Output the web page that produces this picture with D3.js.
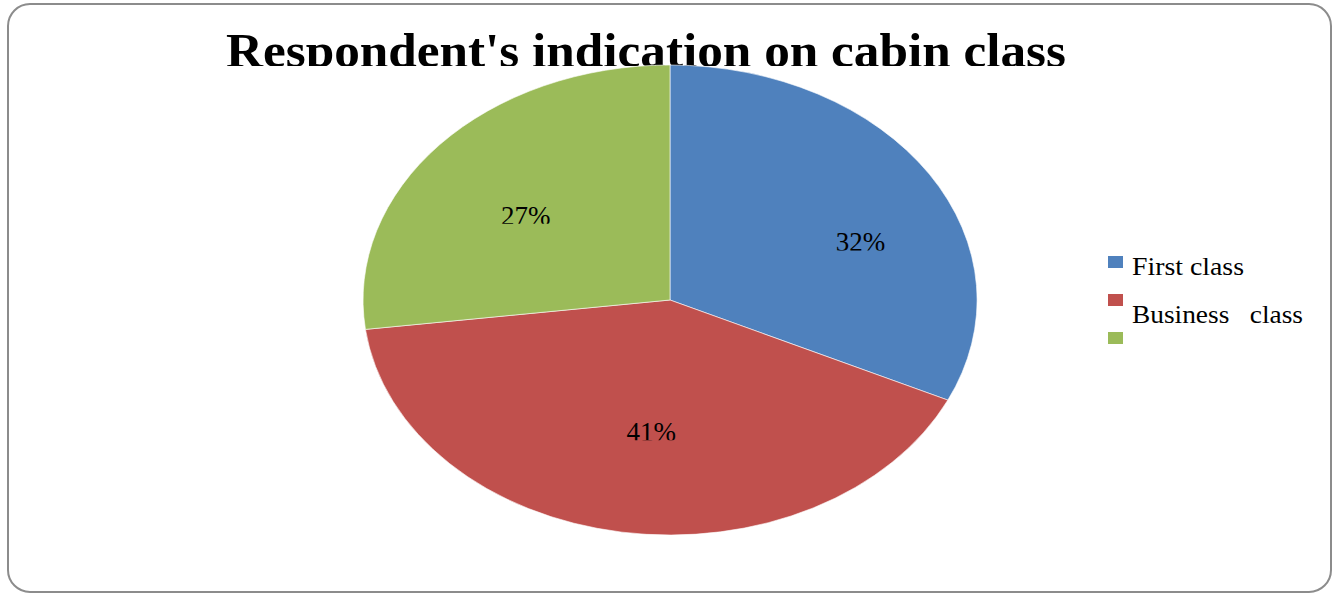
<!DOCTYPE html>
<html>
<head>
<meta charset="utf-8">
<script src="https://cdn.jsdelivr.net/npm/d3@7"></script>
<style>
  html, body { margin: 0; padding: 0; background: #fff; }
  svg { display: block; }
</style>
</head>
<body>
<svg id="chart" width="1333" height="593"></svg>
<script>
// Cabin class shares (percent)
const categories = ["First class", "Business   class", ""];
const values = [32, 41, 27];
const colors = ["#4F81BD", "#C0504D", "#9BBB59"];
const titleText = "Respondent's indication on cabin class";

const svg = d3.select("#chart");
const W = 1333, H = 593;

// Chart frame
svg.append("rect")
  .attr("x", 8).attr("y", 4)
  .attr("width", 1323).attr("height", 588)
  .attr("rx", 22).attr("ry", 22)
  .attr("fill", "#fff")
  .attr("stroke", "#8c8c8c")
  .attr("stroke-width", 2);

// Title, clipped at the top of the plot area
const defs = svg.append("defs");
defs.append("clipPath").attr("id", "titleClip")
  .append("rect").attr("x", 0).attr("y", 0).attr("width", W).attr("height", 66);

svg.append("text")
  .attr("clip-path", "url(#titleClip)")
  .attr("x", 646).attr("y", 67)
  .attr("text-anchor", "middle")
  .attr("font-family", "'Liberation Serif', serif")
  .attr("font-weight", "bold")
  .attr("font-size", 49)
  .attr("textLength", 840)
  .attr("lengthAdjust", "spacingAndGlyphs")
  .attr("fill", "#000")
  .text(titleText);

// Elliptical pie: draw on a unit circle and stretch
const cx = 670, cy = 300, rx = 307, ry = 235;
const pie = d3.pie().sort(null).value(d => d);
const arcs = pie(values);
const arc = d3.arc().innerRadius(0).outerRadius(1);

const g = svg.append("g")
  .attr("transform", `translate(${cx},${cy}) scale(${rx},${ry})`);

g.selectAll("path")
  .data(arcs)
  .join("path")
  .attr("d", arc)
  .attr("fill", (d, i) => colors[i])
  .attr("stroke", "#fff")
  .attr("stroke-width", 0.6)
  .attr("vector-effect", "non-scaling-stroke");

// Percentage labels: placed along each slice's centroid, with small layout nudges
const labelArc = d3.arc().innerRadius(0.6).outerRadius(0.6);
const labelNudge = [[35, 17], [10, -8], [-6, 8]];
arcs.forEach((d, i) => {
  const [ux, uy] = labelArc.centroid(d);
  const lx = cx + ux * rx + labelNudge[i][0];
  const ly = cy + uy * ry + labelNudge[i][1];
  const cid = "lblClip" + i;
  defs.append("clipPath").attr("id", cid)
    .append("rect").attr("x", lx - 60).attr("y", ly - 40).attr("width", 120).attr("height", 49);
  svg.append("text")
    .attr("clip-path", `url(#${cid})`)
    .attr("x", lx).attr("y", ly + 10)
    .attr("text-anchor", "middle")
    .attr("font-family", "'Liberation Serif', serif")
    .attr("font-size", 27)
    .attr("fill", "#000")
    .text(Math.round(d.value) + "%");
});

// Legend
const legend = svg.append("g").attr("transform", "translate(1108,256)");
const rowY = d3.scalePoint().domain(d3.range(categories.length)).range([0, 76]);
const textDy = [19, 29, 19];
const textLen = [112, 171, 0];
categories.forEach((c, i) => {
  const row = legend.append("g").attr("transform", `translate(0,${rowY(i)})`);
  row.append("rect").attr("width", 15).attr("height", 12).attr("fill", colors[i]);
  if (c) {
    row.append("text")
      .attr("x", 24).attr("y", textDy[i])
      .attr("font-family", "'Liberation Serif', serif")
      .attr("font-size", 25)
      .attr("fill", "#000")
      .attr("textLength", textLen[i])
      .attr("lengthAdjust", "spacingAndGlyphs")
      .style("white-space", "pre")
      .text(c);
  }
});
</script>
</body>
</html>
